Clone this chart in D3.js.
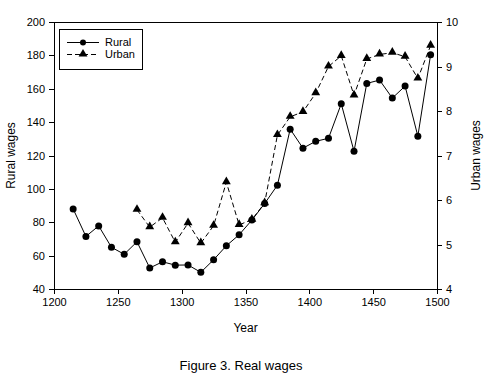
<!DOCTYPE html>
<html>
<head>
<meta charset="utf-8">
<script src="https://cdn.jsdelivr.net/npm/d3@7"></script>
<style>
  body { margin: 0; background: #fff; }
  svg text { font-family: "Liberation Sans", Arial, sans-serif; fill: #000; }
</style>
</head>
<body>
<div id="chart"></div>
<script>
const ruralYears = [1215, 1225, 1235, 1245, 1255, 1265, 1275, 1285, 1295, 1305, 1315, 1325, 1335, 1345, 1355, 1365, 1375, 1385, 1395, 1405, 1415, 1425, 1435, 1445, 1455, 1465, 1475, 1485, 1495];
const ruralWages = [88, 71.5, 77.8, 65, 60.8, 68.3, 52.6, 56.3, 54.3, 54.4, 50, 57.5, 65.9, 72.5, 81.3, 91.2, 102.2, 135.8, 124.4, 128.5, 130.3, 151, 122.5, 163.2, 165.2, 154.4, 161.6, 131.6, 180.4];
const urbanYears = [1265, 1275, 1285, 1295, 1305, 1315, 1325, 1335, 1345, 1355, 1365, 1375, 1385, 1395, 1405, 1415, 1425, 1435, 1445, 1455, 1465, 1475, 1485, 1495];
const urbanWages = [5.78, 5.39, 5.6, 5.05, 5.48, 5.03, 5.42, 6.4, 5.44, 5.56, 5.93, 7.46, 7.87, 7.98, 8.4, 9.0, 9.24, 8.35, 9.17, 9.27, 9.31, 9.22, 8.73, 9.47];
const xTicks = [1200, 1250, 1300, 1350, 1400, 1450, 1500];
const ruralTicks = [40, 60, 80, 100, 120, 140, 160, 180, 200];
const urbanTicks = [4, 5, 6, 7, 8, 9, 10];

const width = 485, height = 376;
const margin = { top: 22, right: 48, bottom: 87, left: 54 };

const svg = d3.select("#chart")
  .append("svg")
  .attr("width", width)
  .attr("height", height);

const x = d3.scaleLinear().domain([1200, 1500]).range([margin.left, width - margin.right]);
const yR = d3.scaleLinear().domain([40, 200]).range([height - margin.bottom, margin.top]);
const yU = d3.scaleLinear().domain([4, 10]).range([height - margin.bottom, margin.top]);

// axes
const xAxis = svg.append("g")
  .attr("transform", "translate(0," + (height - margin.bottom) + ")")
  .call(d3.axisBottom(x).tickValues(xTicks).tickSize(5).tickPadding(4).tickFormat(d3.format("d")));
const leftAxis = svg.append("g")
  .attr("transform", "translate(" + margin.left + ",0)")
  .call(d3.axisLeft(yR).tickValues(ruralTicks).tickSize(5).tickPadding(4).tickFormat(d3.format("d")));
const rightAxis = svg.append("g")
  .attr("transform", "translate(" + (width - margin.right) + ",0)")
  .call(d3.axisRight(yU).tickValues(urbanTicks).tickSize(5).tickPadding(4).tickFormat(d3.format("d")));

[xAxis, leftAxis, rightAxis].forEach(g => {
  g.select(".domain").attr("stroke", "#000").attr("d", null);
  g.selectAll(".tick line").attr("stroke", "#000").attr("shape-rendering", "crispEdges");
  g.selectAll(".tick text").style("font-size", "11px");
});

// frame
svg.append("rect")
  .attr("x", margin.left + 0.5)
  .attr("y", margin.top + 0.5)
  .attr("width", width - margin.left - margin.right)
  .attr("height", height - margin.top - margin.bottom)
  .attr("fill", "none")
  .attr("stroke", "#000")
  .attr("shape-rendering", "crispEdges");

const rural = ruralYears.map((yr, i) => ({ year: yr, v: ruralWages[i] }));
const urban = urbanYears.map((yr, i) => ({ year: yr, v: urbanWages[i] }));

// lines
svg.append("path")
  .datum(urban)
  .attr("fill", "none")
  .attr("stroke", "#000")
  .attr("stroke-width", 1)
  .attr("stroke-dasharray", "5,3")
  .attr("d", d3.line().x(d => x(d.year)).y(d => yU(d.v)));

svg.append("path")
  .datum(rural)
  .attr("fill", "none")
  .attr("stroke", "#000")
  .attr("stroke-width", 1)
  .attr("d", d3.line().x(d => x(d.year)).y(d => yR(d.v)));

// markers
const tri = d3.symbol().type(d3.symbolTriangle).size(34);
svg.selectAll(".urban-pt")
  .data(urban)
  .enter()
  .append("path")
  .attr("class", "urban-pt")
  .attr("d", tri)
  .attr("transform", d => "translate(" + x(d.year) + "," + (yU(d.v) - 0.5) + ")")
  .attr("fill", "#000");

svg.selectAll(".rural-pt")
  .data(rural)
  .enter()
  .append("circle")
  .attr("class", "rural-pt")
  .attr("cx", d => x(d.year))
  .attr("cy", d => yR(d.v))
  .attr("r", 3.5)
  .attr("fill", "#000");

// axis titles
svg.append("text")
  .attr("x", (x(1200) + x(1500)) / 2)
  .attr("y", 332)
  .attr("text-anchor", "middle")
  .style("font-size", "12px")
  .text("Year");

svg.append("text")
  .attr("transform", "translate(15," + (yR(120)) + ") rotate(-90)")
  .attr("text-anchor", "middle")
  .style("font-size", "12px")
  .text("Rural wages");

svg.append("text")
  .attr("transform", "translate(480," + (yU(7)) + ") rotate(-90)")
  .attr("text-anchor", "middle")
  .style("font-size", "12px")
  .text("Urban wages");

svg.append("text")
  .attr("x", 241)
  .attr("y", 370)
  .attr("text-anchor", "middle")
  .style("font-size", "13px")
  .text("Figure 3. Real wages");

// legend
const lg = svg.append("g").attr("transform", "translate(59,29)");
lg.append("rect")
  .attr("x", 0.5).attr("y", 0.5)
  .attr("width", 83).attr("height", 40)
  .attr("fill", "#fff").attr("stroke", "#000")
  .attr("shape-rendering", "crispEdges");
const legendItems = [
  { name: "Rural", dash: null, y: 13 },
  { name: "Urban", dash: "5,3", y: 25 }
];
legendItems.forEach(item => {
  lg.append("line")
    .attr("x1", 8).attr("x2", 40)
    .attr("y1", item.y + 0.5).attr("y2", item.y + 0.5)
    .attr("stroke", "#000")
    .attr("stroke-dasharray", item.dash);
  if (item.name === "Rural") {
    lg.append("circle").attr("cx", 24).attr("cy", item.y + 0.5).attr("r", 3).attr("fill", "#000");
  } else {
    lg.append("path").attr("d", tri).attr("transform", "translate(24," + item.y + ")").attr("fill", "#000");
  }
  lg.append("text")
    .attr("x", 46)
    .attr("y", item.y + 4)
    .style("font-size", "11px")
    .text(item.name);
});
</script>
</body>
</html>
